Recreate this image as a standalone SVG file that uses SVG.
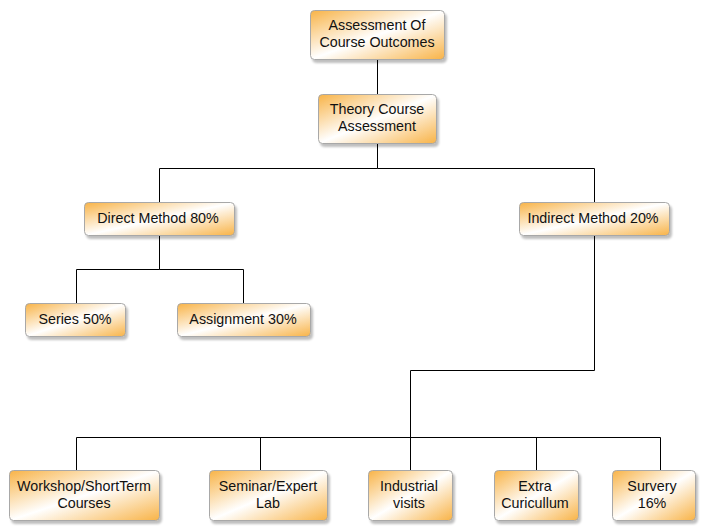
<svg xmlns="http://www.w3.org/2000/svg" width="703" height="528" viewBox="0 0 703 528">
<defs>
<linearGradient id="g" x1="0" y1="0" x2="1" y2="1">
<stop offset="0" stop-color="#f8b347"/>
<stop offset="0.5" stop-color="#ffffff"/>
<stop offset="1" stop-color="#f8b347"/>
</linearGradient>
<filter id="sh" x="-10%" y="-10%" width="130%" height="140%">
<feDropShadow dx="2" dy="3" stdDeviation="1.2" flood-color="#000" flood-opacity="0.25"/>
</filter>
<style>
.n rect{fill:url(#g);stroke:#a8a8a8;stroke-width:1;filter:url(#sh)}
.n text{font-family:"Liberation Sans",Arial,sans-serif;font-size:14.3px;fill:#111;text-anchor:middle}
.c path{fill:none;stroke:#000;stroke-width:1}
</style>
</defs>
<rect width="703" height="528" fill="#fff"/>
<g class="c" id="connectors">
<path d="M377.5 59V94"/>
<path d="M377.5 143V168.5H159.5V202M377.5 168.5H594.5V202"/>
<path d="M159.5 235V269.5H76.5V303M159.5 269.5H243.5V303"/>
<path d="M594.5 235V370.5H410.5V470M410.5 437.5H76.5V470M410.5 437.5H660.5V470M260.5 437.5V470M536.5 437.5V470"/>
</g>
<g class="n" id="n1"><rect x="310.5" y="10.5" width="134" height="49" rx="4"/><text x="377" y="30">Assessment Of</text><text x="377" y="47">Course Outcomes</text></g>
<g class="n" id="n2"><rect x="318.5" y="94.5" width="118" height="49" rx="4"/><text x="377" y="114">Theory Course</text><text x="377" y="131">Assessment</text></g>
<g class="n" id="n3"><rect x="84.5" y="202.5" width="150" height="33" rx="4"/><text x="158" y="223">Direct Method 80%</text></g>
<g class="n" id="n4"><rect x="519.5" y="202.5" width="150" height="33" rx="4"/><text x="593" y="223">Indirect Method 20%</text></g>
<g class="n" id="n5"><rect x="25.5" y="303.5" width="100" height="33" rx="4"/><text x="75" y="324">Series 50%</text></g>
<g class="n" id="n6"><rect x="177.5" y="303.5" width="133" height="33" rx="4"/><text x="243" y="324">Assignment 30%</text></g>
<g class="n" id="n7"><rect x="9.5" y="470.5" width="150" height="50" rx="4"/><text x="84" y="491">Workshop/ShortTerm</text><text x="84" y="508">Courses</text></g>
<g class="n" id="n8"><rect x="209.5" y="470.5" width="118" height="50" rx="4"/><text x="268" y="491">Seminar/Expert</text><text x="268" y="508">Lab</text></g>
<g class="n" id="n9"><rect x="368.5" y="470.5" width="84" height="50" rx="4"/><text x="409" y="491">Industrial</text><text x="409" y="508">visits</text></g>
<g class="n" id="n10"><rect x="494.5" y="470.5" width="84" height="50" rx="4"/><text x="535" y="491">Extra</text><text x="535" y="508">Curicullum</text></g>
<g class="n" id="n11"><rect x="612.5" y="470.5" width="83" height="50" rx="4"/><text x="652" y="491">Survery</text><text x="652" y="508">16%</text></g>
</svg>
